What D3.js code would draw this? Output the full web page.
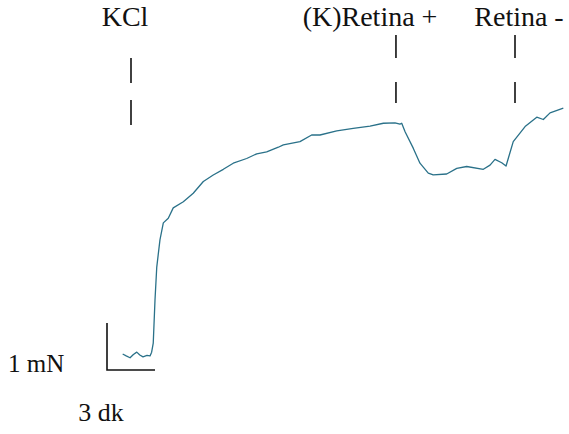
<!DOCTYPE html>
<html>
<head>
<meta charset="utf-8">
<script src="https://cdn.jsdelivr.net/npm/d3@7"></script>
<style>
  body { margin: 0; background: #fff; }
</style>
</head>
<body>
<div id="container"></div>
<script>
// trace, time in minutes, force in mN
const time = [0.98, 1.2, 1.44, 1.65, 1.86, 2.05, 2.25, 2.5, 2.69, 2.79, 2.89, 3.0, 3.11, 3.31, 3.52,
  3.83, 4.14, 4.77, 5.39, 6.02, 6.64, 7.27, 7.89, 8.73, 9.36, 9.98, 10.71, 11.02, 12.06, 12.79, 13.31,
  14.36, 15.39, 16.44, 17.27, 18.0, 18.31, 18.42, 18.63, 19.14, 19.56, 20.08, 20.39, 21.23, 21.86,
  22.48, 23.52, 23.94, 24.25, 24.67, 24.94, 25.39, 26.13, 26.86, 27.27, 27.69, 28.52];
const force = [0.34, 0.30, 0.26, 0.33, 0.38, 0.32, 0.28, 0.31, 0.30, 0.38, 0.57, 1.49, 2.19, 2.77, 3.13,
  3.23, 3.45, 3.58, 3.76, 4.01, 4.15, 4.27, 4.40, 4.50, 4.60, 4.64, 4.74, 4.79, 4.86, 5.00, 5.00,
  5.09, 5.14, 5.19, 5.25, 5.26, 5.23, 5.25, 5.07, 4.72, 4.40, 4.19, 4.15, 4.17, 4.29,
  4.33, 4.27, 4.36, 4.48, 4.41, 4.34, 4.86, 5.18, 5.38, 5.33, 5.47, 5.57];

const events = ["KCl", "(K)Retina +", "Retina -"];
const eventTime = [1.5, 18.06, 25.5];

const barTime = 3, barForce = 1;
const barLabels = ["3 dk", "1 mN"];

const width = 569, height = 434;
const serif = "Liberation Serif, Times New Roman, Times, Tinos, Noto Serif, DejaVu Serif, FreeSerif, serif";

const svg = d3.select("#container")
              .append("svg")
              .attr("width", width)
              .attr("height", height)
              .style("font-family", serif);

const xScale = d3.scaleLinear()
                 .domain([0, 30])
                 .range([107, 107 + 30 * 16]);
const yScale = d3.scaleLinear()
                 .domain([0, 6])
                 .range([370, 370 - 6 * 47]);

const line = d3.line()
               .x((d, i) => xScale(time[i]))
               .y((d, i) => yScale(force[i]));

svg.append("path")
   .datum(time)
   .attr("d", line)
   .attr("fill", "none")
   .attr("stroke", "#2a7189")
   .attr("stroke-width", 1.3)
   .attr("stroke-linejoin", "round");

// event markers: two dashes under each label
const evLabelX = [125, 370, 519];
const dashes = [[[58, 83], [100, 125]], [[35, 58], [82, 103]], [[35, 58], [82, 103]]];
events.forEach((name, i) => {
  const x = xScale(eventTime[i]);
  dashes[i].forEach(seg => {
    svg.append("line")
       .attr("x1", x).attr("x2", x)
       .attr("y1", seg[0]).attr("y2", seg[1])
       .attr("stroke", "#111")
       .attr("stroke-width", 1.6);
  });
  svg.append("text")
     .text(name)
     .attr("x", evLabelX[i])
     .attr("y", 26)
     .attr("text-anchor", "middle")
     .style("font-family", serif)
     .style("font-size", "28px")
     .attr("fill", "#111");
});

// scale bar
svg.append("path")
   .attr("d", "M" + xScale(0) + "," + yScale(barForce) + "V" + yScale(0) + "H" + xScale(barTime))
   .attr("fill", "none")
   .attr("stroke", "#111")
   .attr("stroke-width", 1.6);
svg.append("text")
   .text(barLabels[0])
   .attr("x", 101)
   .attr("y", 421)
   .attr("text-anchor", "middle")
   .style("font-family", serif)
   .style("font-size", "26px")
   .attr("fill", "#111");
svg.append("text")
   .text(barLabels[1])
   .attr("x", 8)
   .attr("y", 372)
   .style("font-family", serif)
   .style("font-size", "25px")
   .attr("fill", "#111");
</script>
</body>
</html>
